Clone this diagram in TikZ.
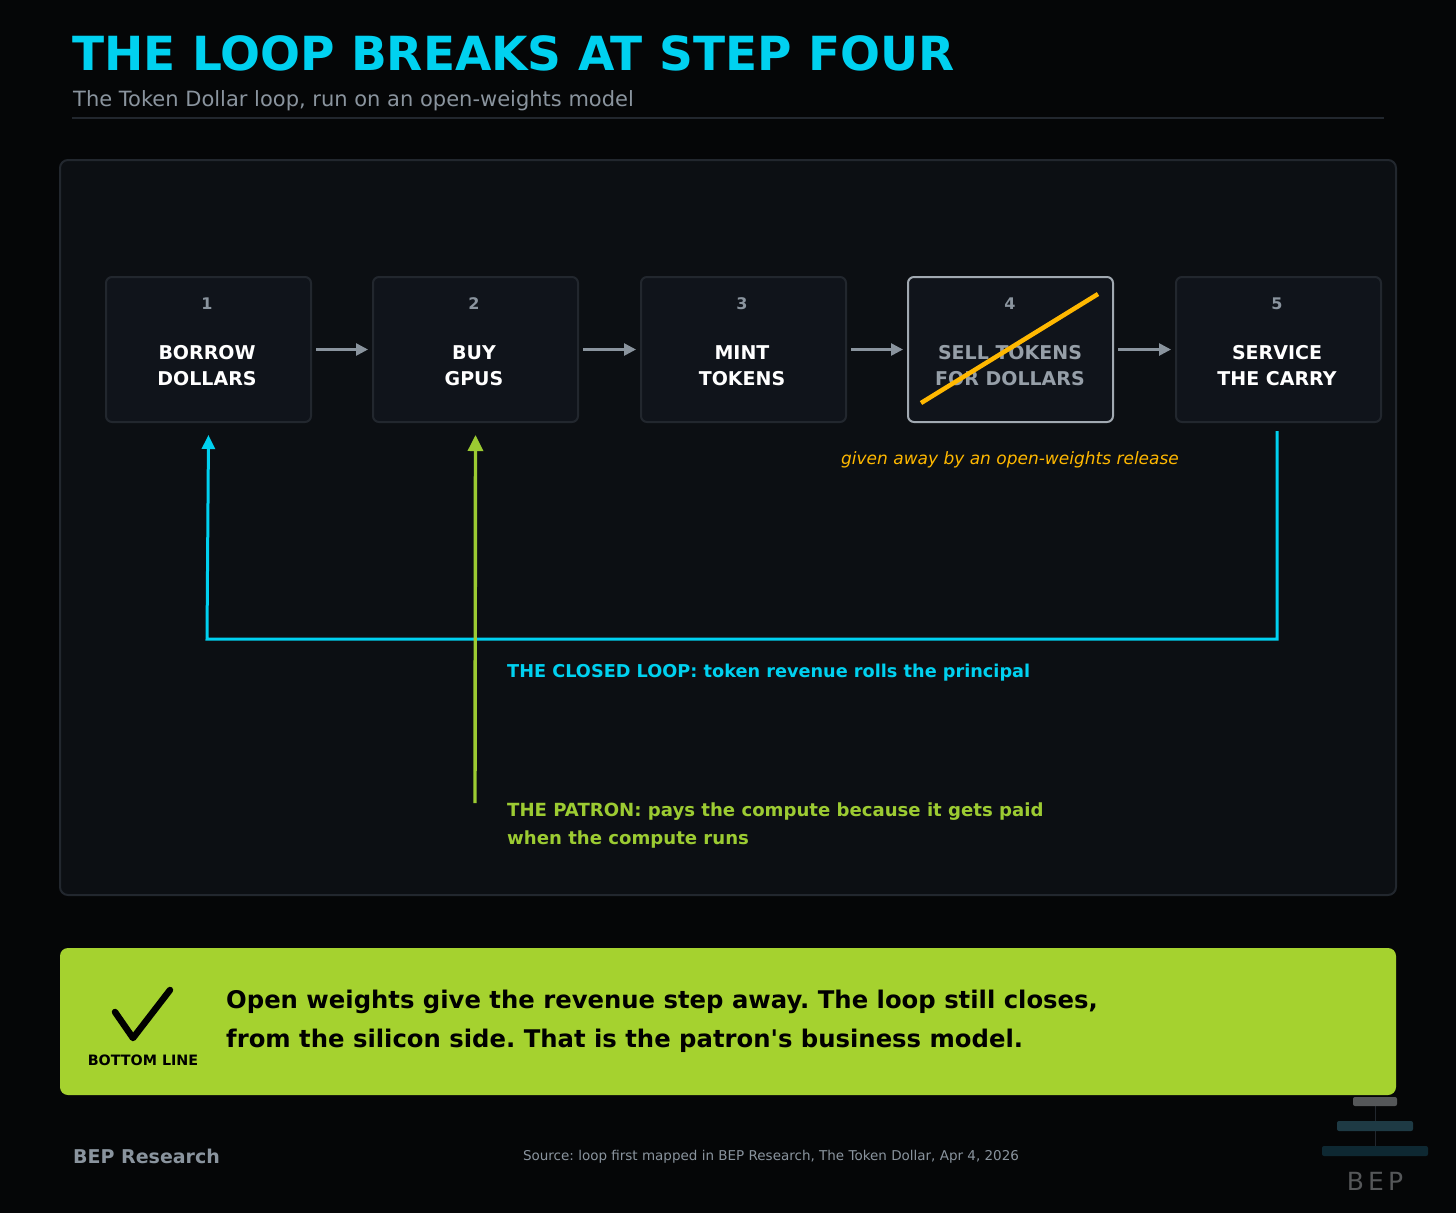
\documentclass[tikz,border=0pt]{standalone}
\usepackage{fontspec}
\setmainfont{DejaVu Sans}
\usetikzlibrary{arrows.meta}
\definecolor{bg}{HTML}{050607}
\definecolor{panel}{HTML}{0C0F13}
\definecolor{boxc}{HTML}{10141B}
\definecolor{boxd}{HTML}{22272E}
\definecolor{cyanc}{HTML}{00D1F0}
\definecolor{greenc}{HTML}{9CCB32}
\definecolor{lime}{HTML}{A5D22F}
\definecolor{greyc}{HTML}{8A949E}
\definecolor{amber}{HTML}{FFB800}
\definecolor{logoa}{HTML}{555759}
\definecolor{logob}{HTML}{1E3A44}
\definecolor{logoc}{HTML}{0E2832}
\tikzset{
 stepbox/.style={draw=boxd,line width=2pt,fill=boxc,rounded corners=6pt,minimum width=205pt,minimum height=145pt,anchor=north west},
 num/.style={text=greyc,font=\bfseries\fontsize{16}{18}\selectfont},
 lab/.style={text=white,font=\bfseries\fontsize{19}{26}\selectfont,align=center},
 flow/.style={draw=greyc,line width=2.6pt,-{Triangle[length=12pt,width=12pt]}},
}
\begin{document}
\frenchspacing
\begin{tikzpicture}[x=1pt,y=-1pt]
\fill[bg] (0,0) rectangle (1456,1213);
\useasboundingbox (0,0) rectangle (1456,1213);
\node[anchor=base west,text=cyanc,font=\bfseries\fontsize{47}{50}\selectfont,inner sep=0] (title) at (72,70) {THE LOOP BREAKS AT STEP FOUR};
\node[anchor=base west,text=greyc,font=\fontsize{21}{24}\selectfont,inner sep=0] (sub) at (73,106) {The Token Dollar loop, run on an open-weights model};
\draw[draw=boxd,line width=1.5pt] (72,118) -- (1384,118);
\draw[draw=boxd,line width=2pt,fill=panel,rounded corners=8pt] (60,160) rectangle (1396,895);
\foreach \i/\x/\n/\t in {1/105/1/BORROW\\DOLLARS,2/372/2/BUY\\GPUS,3/640/3/MINT\\TOKENS,5/1175/5/SERVICE\\THE CARRY}{
 \node[stepbox] (b\i) at (\x,276) {};
 \node[num] (n\i) at (\x+102,304) {\n};
 \node[lab] (l\i) at (\x+102,366) {\t};
}
\node[stepbox,draw=greyc!80] (b4) at (907,276) {};
\node[num] (n4) at (1010,304) {4};
\node[lab,text=greyc!90] (l4) at (1010,366) {SELL TOKENS\\FOR DOLLARS};
\draw[amber,line width=4.5pt] (921,403) -- (1098,294);
\foreach \a/\b in {1/2,2/3,3/4,4/5}{
 \draw[flow] ([xshift=4pt]b\a.east) -- ([xshift=-4pt]b\b.west);
}
\node[text=amber,font=\itshape\fontsize{17}{20}\selectfont] (gv) at (1010,460) {given away by an open-weights release};
\coordinate (c5) at (1277,431);
\coordinate (cr) at (1277,639);
\coordinate (cl) at (207,639);
\coordinate (g0) at (475,803);
\draw[cyanc,line width=3pt,-{Triangle[length=14pt,width=13pt]}] (c5) -- (cr) -- (cl) -- ([yshift=-12pt]b1.south);
\draw[greenc,line width=3.4pt,-{Triangle[length=16pt,width=15pt]}] (g0) -- ([yshift=-12pt]b2.south);
\node[anchor=base west,text=cyanc,font=\bfseries\fontsize{17.7}{20}\selectfont,inner sep=0] (cap1) at (507,677) {THE CLOSED LOOP: token revenue rolls the principal};
\node[anchor=north west,text=greenc,font=\bfseries\fontsize{18.1}{28}\selectfont,inner sep=0,align=left] (cap2) at (507,803) {THE PATRON: pays the compute because it gets paid\\when the compute runs};
\fill[lime,rounded corners=8pt] (60,948) rectangle (1396,1095);
\draw[black,line width=6.5pt,line cap=round,line join=round] (115,1012) -- (133,1038) -- (170,990);
\node[text=black,font=\bfseries\fontsize{14.3}{16}\selectfont] (bl) at (143,1060) {BOTTOM LINE};
\node[anchor=north west,text=black,font=\bfseries\fontsize{24.3}{39}\selectfont,inner sep=0,align=left] (bt) at (226,990) {Open weights give the revenue step away. The loop still closes,\\from the silicon side. That is the patron\textquotesingle s business model.};
\node[anchor=base west,text=greyc,font=\bfseries\fontsize{19}{22}\selectfont,inner sep=0] (bep) at (73,1163) {BEP Research};
\node[text=greyc,font=\fontsize{13.5}{16}\selectfont] (src) at (771,1157) {Source: loop first mapped in BEP Research, The Token Dollar, Apr 4, 2026};
\draw[boxd,line width=1pt] (1375,1100) -- (1375,1150);
\fill[logoa,rounded corners=2pt] (1353,1097) rectangle (1397,1106);
\fill[logob,rounded corners=2pt] (1337,1121) rectangle (1413,1131);
\fill[logoc,rounded corners=2pt] (1322,1146) rectangle (1428,1156);
\node[text=logoa,font=\fontsize{25}{28}\selectfont] (logo) at (1375,1181) {B\,E\,P};
\end{tikzpicture}
\end{document}
